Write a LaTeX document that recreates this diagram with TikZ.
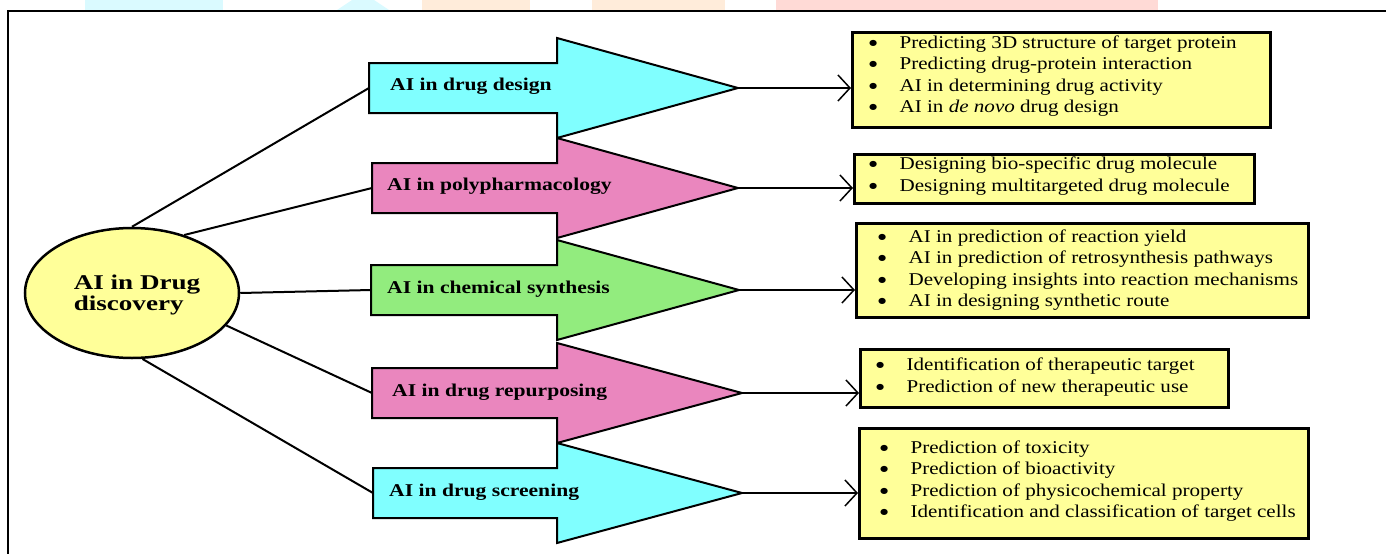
\documentclass[tikz,border=0pt]{standalone}
\usepackage{fontspec}
\setmainfont{Liberation Serif}
\newfontfamily\dvbul{DejaVu Sans}
\usetikzlibrary{arrows.meta,shapes.geometric}
\definecolor{cy}{RGB}{128,255,255}
\definecolor{pk}{RGB}{234,134,190}
\definecolor{gr}{RGB}{146,236,126}
\definecolor{yl}{RGB}{255,255,153}
\definecolor{wmcy}{RGB}{218,250,255}
\definecolor{wmor}{RGB}{255,236,218}
\definecolor{wmrd}{RGB}{255,218,214}
\newcommand\bl[1]{\makebox[26pt][l]{\raisebox{3pt}{\dvbul\fontsize{8}{8}\selectfont ●}}#1}
\newcommand\blockarrow[5]{%
  \draw[blk, fill=#5] (#2,#3-25) -- (557,#3-25) -- (557,#3-50) -- (#4,#3)
    -- (557,#3+50) -- (557,#3+25) -- (#2,#3+25) -- cycle;
  \coordinate (#1w) at (#2,#3);
  \coordinate (#1t) at (#4,#3);}
\begin{document}
\begin{tikzpicture}[x=1pt,y=-1pt,
  blk/.style={draw=black, line width=2pt, line join=miter},
  lbl/.style={anchor=west, inner sep=0pt, font=\bfseries\fontsize{18}{20}\selectfont, xscale=1.2},
  box/.style={draw=black, fill=yl, line width=3pt, anchor=north west, inner sep=0pt},
  lst/.style={anchor=west, inner sep=0pt, align=left, font=\fontsize{18}{21.3}\selectfont, xscale=1.17},
  link/.style={line width=2pt},
  pt/.style={line width=1.5pt, -{Straight Barb[length=12pt,width=26pt,line width=1.5pt]}}
]
\useasboundingbox (0,0) rectangle (1386,554);
% faint watermark fragments at the top edge
\fill[wmcy] (85,0) rectangle (223,10);
\fill[wmcy] (337,10) -- (352,0) -- (374,0) -- (389,10) -- cycle;
\fill[wmor] (422,0) rectangle (530,10);
\fill[wmor] (592,0) rectangle (725,10);
\fill[wmrd] (776,0) rectangle (1158,10);
% frame
\draw[line width=2pt] (1386,11) -- (8,11) -- (8,554);
% central ellipse
\node[draw=black, fill=yl, ellipse, line width=2.5pt, minimum width=214pt, minimum height=130pt, inner sep=0pt] (E) at (132,293) {};
\node[inner sep=0pt, align=left, font=\bfseries\fontsize{21}{21}\selectfont, xscale=1.29] (ET) at (137,295) {AI in Drug\\discovery};
% block arrows
\blockarrow{A1}{369}{88}{738}{cy}
\blockarrow{A2}{372}{188}{738}{pk}
\blockarrow{A3}{371}{290}{739}{gr}
\blockarrow{A4}{372}{393}{742}{pk}
\blockarrow{A5}{373}{493}{742}{cy}
\node[lbl] (T1) at (390,86) {AI in drug design};
\node[lbl] (T2) at (387,186) {AI in polypharmacology};
\node[lbl] (T3) at (387,289) {AI in chemical synthesis};
\node[lbl] (T4) at (392,392) {AI in drug repurposing};
\node[lbl] (T5) at (389,492) {AI in drug screening};
% result boxes
\node[box, minimum width=418pt, minimum height=95pt] (B1) at (851,31) {};
\node[box, minimum width=400pt, minimum height=49pt] (B2) at (853,153) {};
\node[box, minimum width=452pt, minimum height=94pt] (B3) at (855,222) {};
\node[box, minimum width=368pt, minimum height=58pt] (B4) at (859,348) {};
\node[box, minimum width=449pt, minimum height=110pt] (B5) at (858,427) {};
\node[lst] (L1) at (869,76) {\bl{Predicting 3D structure of target protein}\\
  \bl{Predicting drug-protein interaction}\\
  \bl{AI in determining drug activity}\\
  \bl{AI in \textit{de novo} drug design}};
\node[lst] (L2) at (869,176) {\bl{Designing bio-specific drug molecule}\\
  \bl{Designing multitargeted drug molecule}};
\node[lst] (L3) at (878,270) {\bl{AI in prediction of reaction yield}\\
  \bl{AI in prediction of retrosynthesis pathways}\\
  \bl{Developing insights into reaction mechanisms}\\
  \bl{AI in designing synthetic route}};
\node[lst] (L4) at (876,377) {\bl{Identification of therapeutic target}\\
  \bl{Prediction of new therapeutic use}};
\node[lst] (L5) at (880,481) {\bl{Prediction of toxicity}\\
  \bl{Prediction of bioactivity}\\
  \bl{Prediction of physicochemical property}\\
  \bl{Identification and classification of target cells}};
% connectors from the ellipse
\draw[link] (E.90) -- (A1w);
\draw[link] (E.48) -- (A2w);
\draw[link] (E.east) -- (A3w);
\draw[link] (E.-19) -- (A4w);
\draw[link] (E.-81) -- (A5w);
% connectors to the boxes
\draw[pt] (A1t) -- (A1t -| B1.west);
\draw[pt] (A2t) -- (A2t -| B2.west);
\draw[pt] (A3t) -- (A3t -| B3.west);
\draw[pt] (A4t) -- (A4t -| B4.west);
\draw[pt] (A5t) -- (A5t -| B5.west);
\end{tikzpicture}
\end{document}
